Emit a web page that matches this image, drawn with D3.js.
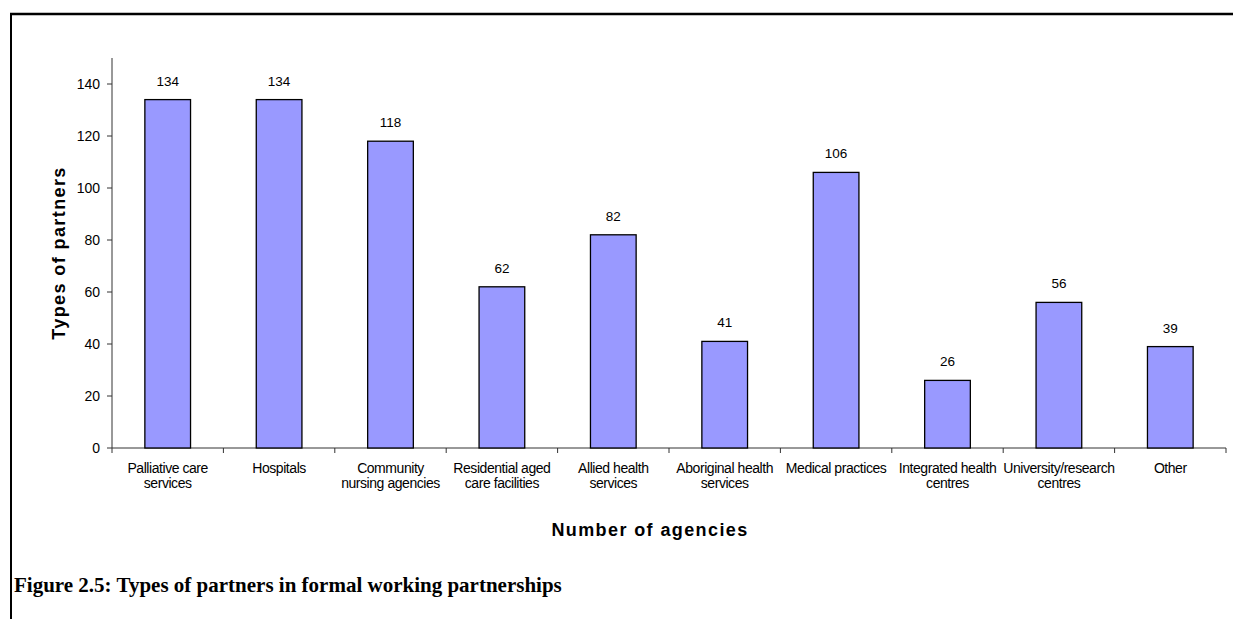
<!DOCTYPE html>
<html>
<head>
<meta charset="utf-8">
<script src="https://cdn.jsdelivr.net/npm/d3@7"></script>
<style>
  body { margin: 0; background: #fff; }
  svg { display: block; }
</style>
</head>
<body>
<svg id="chart" width="1233" height="619"></svg>
<script>
// chart values
const categories = [
  ["Palliative care", "services"],
  ["Hospitals"],
  ["Community", "nursing agencies"],
  ["Residential aged", "care facilities"],
  ["Allied health", "services"],
  ["Aboriginal health", "services"],
  ["Medical practices"],
  ["Integrated health", "centres"],
  ["University/research", "centres"],
  ["Other"]
];
const counts = [134, 134, 118, 62, 82, 41, 106, 26, 56, 39];
const yTicks = [0, 20, 40, 60, 80, 100, 120, 140];

const width = 1233, height = 619;
const svg = d3.select("#chart");

// frame around the figure
svg.append("line")
  .attr("x1", 10).attr("x2", width).attr("y1", 14).attr("y2", 14)
  .attr("stroke", "black").attr("stroke-width", 2.5);
svg.append("line")
  .attr("x1", 11).attr("x2", 11).attr("y1", 13).attr("y2", height)
  .attr("stroke", "black").attr("stroke-width", 2);

const plot = { left: 112, right: 1226, top: 58, bottom: 448 };

const x = d3.scaleBand()
  .domain(d3.range(categories.length))
  .range([plot.left, plot.right])
  .paddingInner(0.59)
  .paddingOuter(0.295);

const y = d3.scaleLinear().domain([0, 150]).range([plot.bottom, plot.top]);

const viz = svg.append("g");

// y axis
viz.append("line")
  .attr("x1", plot.left).attr("x2", plot.left)
  .attr("y1", plot.top).attr("y2", plot.bottom)
  .attr("stroke", "#333").attr("stroke-width", 1);
viz.selectAll("line.ytick")
  .data(yTicks)
  .join("line")
  .attr("class", "ytick")
  .attr("x1", plot.left - 5).attr("x2", plot.left)
  .attr("y1", d => y(d)).attr("y2", d => y(d))
  .attr("stroke", "#333");
viz.selectAll("text.ytick")
  .data(yTicks)
  .join("text")
  .attr("class", "ytick")
  .attr("x", plot.left - 12)
  .attr("y", d => y(d))
  .attr("dy", "0.35em")
  .attr("text-anchor", "end")
  .style("font", "14px 'Liberation Sans', Arial, sans-serif")
  .text(d => d);

// x axis
viz.append("line")
  .attr("x1", plot.left).attr("x2", plot.right)
  .attr("y1", plot.bottom).attr("y2", plot.bottom)
  .attr("stroke", "#333");
const boundaries = d3.range(categories.length + 1).map(i => plot.left + i * x.step());
viz.selectAll("line.xtick")
  .data(boundaries)
  .join("line")
  .attr("class", "xtick")
  .attr("x1", d => d).attr("x2", d => d)
  .attr("y1", plot.bottom).attr("y2", plot.bottom + 5)
  .attr("stroke", "#333");

// bars
viz.selectAll("rect.bar")
  .data(counts)
  .join("rect")
  .attr("class", "bar")
  .attr("x", (d, i) => x(i))
  .attr("y", d => y(d))
  .attr("width", x.bandwidth())
  .attr("height", d => plot.bottom - y(d))
  .attr("fill", "#9999FF")
  .attr("stroke", "black")
  .attr("stroke-width", 1.3);

// value labels
viz.selectAll("text.value")
  .data(counts)
  .join("text")
  .attr("class", "value")
  .attr("x", (d, i) => x(i) + x.bandwidth() / 2)
  .attr("y", d => y(d) - 14)
  .attr("text-anchor", "middle")
  .style("font", "13.5px 'Liberation Sans', Arial, sans-serif")
  .text(d => d);

// category labels
const catLabels = viz.selectAll("text.cat")
  .data(categories)
  .join("text")
  .attr("class", "cat")
  .attr("text-anchor", "middle")
  .style("font", "14px 'Liberation Sans', Arial, sans-serif")
  .style("letter-spacing", "-0.45px");
catLabels.selectAll("tspan")
  .data((d, i) => d.map(line => ({ line, i })))
  .join("tspan")
  .attr("x", d => x(d.i) + x.bandwidth() / 2)
  .attr("y", (d, j) => 473 + j * 15)
  .text(d => d.line);

// axis titles
svg.append("text")
  .attr("transform", "translate(65," + 253 + ") rotate(-90)")
  .attr("text-anchor", "middle")
  .style("font", "bold 18px 'Liberation Sans', Arial, sans-serif")
  .style("letter-spacing", "1.4px")
  .text("Types of partners");

svg.append("text")
  .attr("x", 650)
  .attr("y", 536)
  .attr("text-anchor", "middle")
  .style("font", "bold 18px 'Liberation Sans', Arial, sans-serif")
  .style("letter-spacing", "1.4px")
  .text("Number of agencies");

// figure caption
svg.append("text")
  .attr("x", 14)
  .attr("y", 592)
  .style("font", "bold 21px 'Liberation Serif', 'Times New Roman', serif")
  .text("Figure 2.5: Types of partners in formal working partnerships");
</script>
</body>
</html>
